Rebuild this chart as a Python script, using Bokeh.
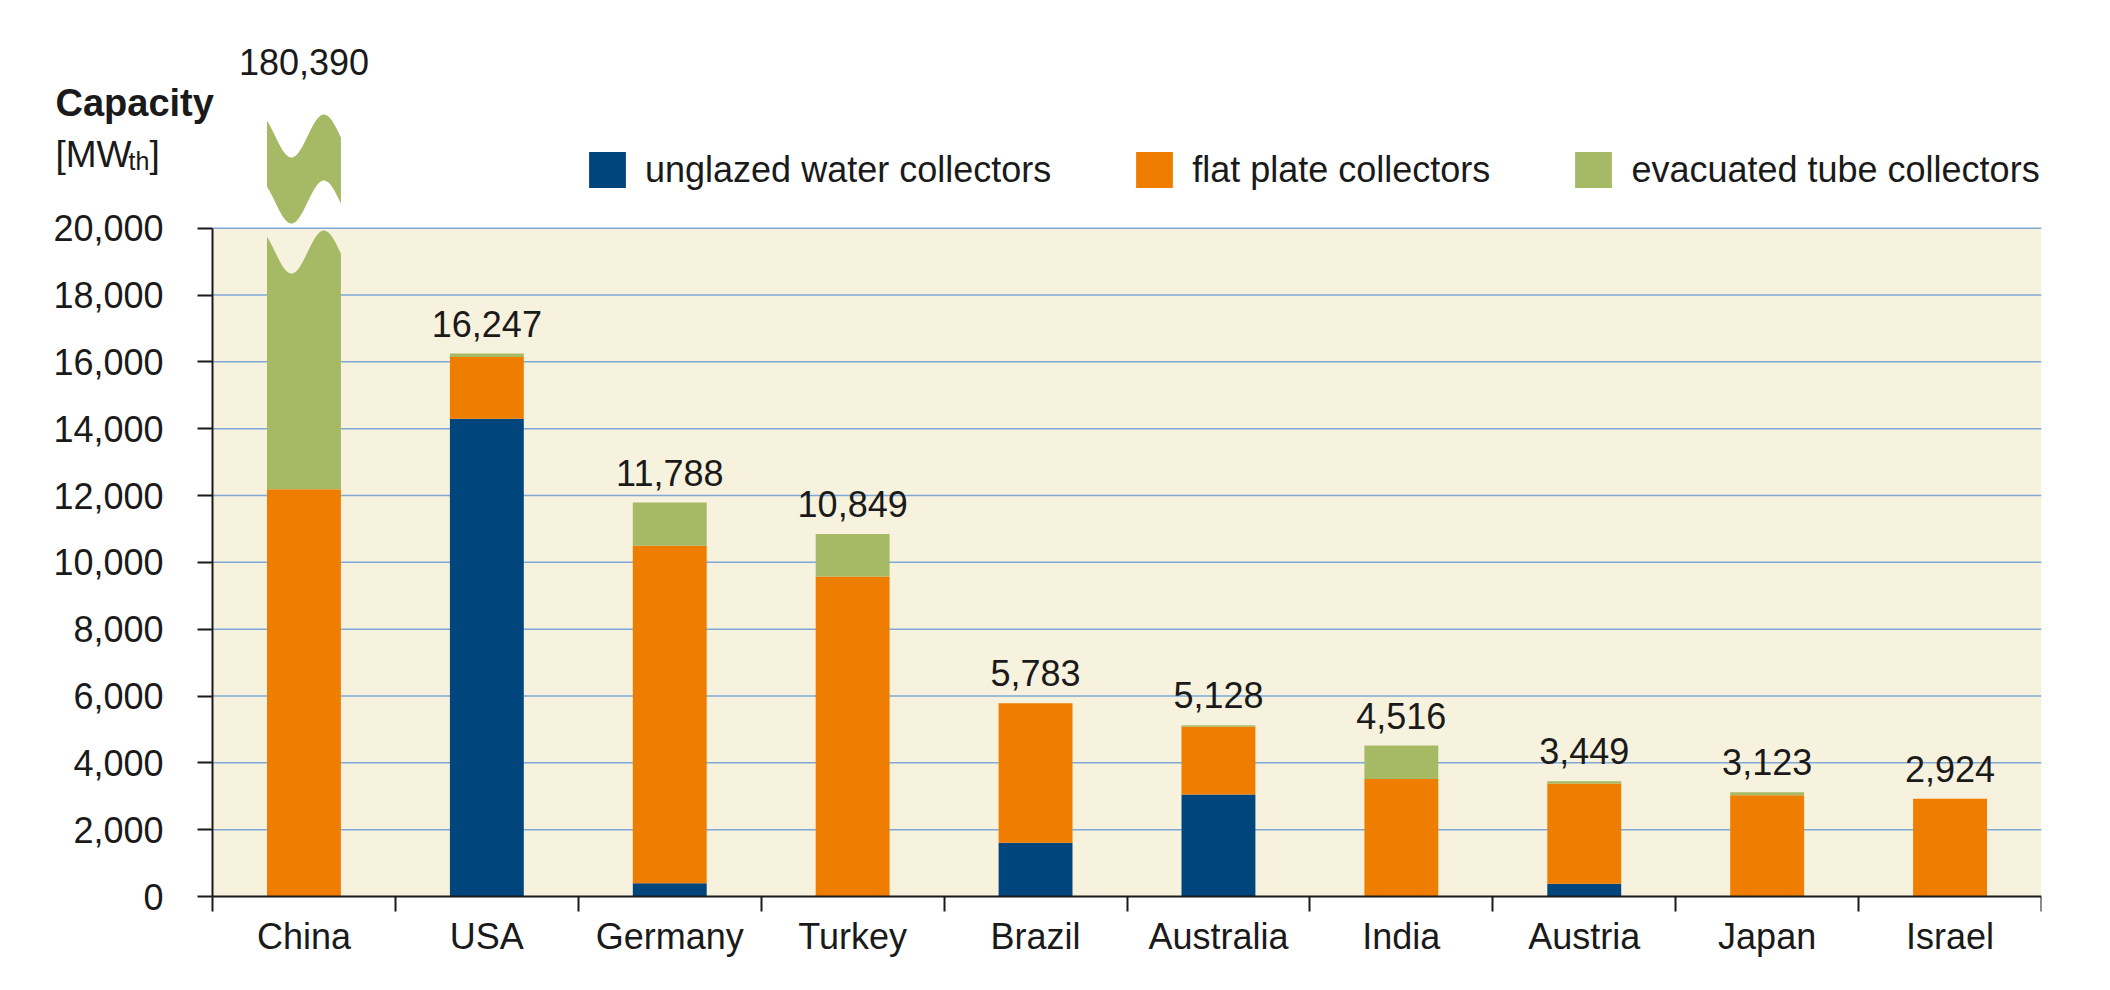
import numpy as np
from bokeh.plotting import figure
from bokeh.models import (ColumnDataSource, Range1d, FixedTicker, NumeralTickFormatter,
                          Legend, LegendItem, BoxAnnotation, Label)
from bokeh.core.properties import value
from bokeh.embed import file_html
from bokeh.resources import INLINE

# ---------------- data ----------------
countries = ["China", "USA", "Germany", "Turkey", "Brazil", "Australia", "India", "Austria", "Japan", "Israel"]
unglazed = [0, 14300, 400, 0, 1610, 3050, 0, 380, 0, 0]
flat_plate = [12190, 1843, 10100, 9575, 4173, 2030, 3520, 3000, 3030, 2924]
evacuated = [168200, 104, 1288, 1274, 0, 48, 996, 69, 93, 0]
totals = [180390, 16247, 11788, 10849, 5783, 5128, 4516, 3449, 3123, 2924]
y_ticks = list(range(0, 20001, 2000))
series_names = ["unglazed water collectors", "flat plate collectors", "evacuated tube collectors"]

AXIS_MAX = 20000
FONT = "Liberation Sans"
C_BLUE = "#00457C"
C_ORANGE = "#EF7D00"
C_GREEN = "#A6B964"
C_BG = "#F7F2DD"
C_GRID = "#7EA8D6"
C_TEXT = "#1A1A1A"

# geometry of the page
W, H = 2110, 990
LEFT, RIGHT, BOTTOM = 212, 69, 94
N = len(countries)
zero_py = H - BOTTOM
px_per_unit = 668.3 / AXIS_MAX
upp = 1 / px_per_unit  # data units per pixel (y)
Y_START = -BOTTOM * upp
Y_END = zero_py * upp
unit_px = (W - LEFT - RIGHT) / N  # pixels per category (x)
X_START = -LEFT / unit_px
BAR_W = 0.404
BASE_FIX = 14  # renderer puts alphabetic baselines this many px low

xs = [i + 0.5 for i in range(N)]
over = [t > AXIS_MAX for t in totals]
evac_disp = [0 if o else e for o, e in zip(over, evacuated)]

src = ColumnDataSource(dict(x=xs, unglazed=unglazed, flat_plate=flat_plate, evacuated=evac_disp))

p = figure(width=W, height=H, output_backend="svg", toolbar_location=None,
           x_range=Range1d(X_START, N), y_range=Range1d(Y_START, Y_END),
           min_border_left=0, min_border_right=RIGHT, min_border_top=0, min_border_bottom=0,
           background_fill_color="white", border_fill_color="white", outline_line_color=None)

p.add_layout(BoxAnnotation(bottom=0, top=AXIS_MAX, left=0, right=N,
                           fill_color=C_BG, fill_alpha=1, line_color=None, level="image"))

# horizontal grid lines limited to the plotting area
p.xgrid.visible = False
p.ygrid.visible = False
gl = [v for v in y_ticks if v > 0]
p.segment(x0=[0] * len(gl), x1=[N] * len(gl), y0=gl, y1=gl, line_color=C_GRID, line_width=1.5)

rs = p.vbar_stack(["unglazed", "flat_plate", "evacuated"], x="x", width=BAR_W, source=src,
                  color=[C_BLUE, C_ORANGE, C_GREEN], line_color=None)

# broken bar(s)
t = np.linspace(0, 1, 80)
for i, o in enumerate(over):
    if not o:
        continue
    xl, xr = xs[i] - BAR_W / 2, xs[i] + BAR_W / 2
    wave = (AXIS_MAX - 712) - 643 * np.cos(2 * np.pi * (t - 0.33) / 0.88)
    wx = xl + t * (xr - xl)
    base = unglazed[i] + flat_plate[i]
    p.patch(list(np.r_[xl, wx, xr]), list(np.r_[base, wave, base]), fill_color=C_GREEN, line_color=None)
    lo = wave + 50 * upp
    hi = wave + 116 * upp
    p.patch(list(np.r_[wx, wx[::-1]]), list(np.r_[lo, hi[::-1]]), fill_color=C_GREEN, line_color=None)

# value labels
lab_y, lab_off = [], []
for i, tot in enumerate(totals):
    if over[i]:
        lab_y.append(AXIS_MAX - 712 + 643 + 116 * upp)
        lab_off.append(-39 - BASE_FIX)
    else:
        lab_y.append(tot)
        lab_off.append(-16 - BASE_FIX)
lsrc = ColumnDataSource(dict(x=xs, y=lab_y, off=lab_off, text=[f"{v:,}" for v in totals]))
p.text(x="x", y="y", text="text", y_offset="off", source=lsrc, text_align="center",
       text_baseline="alphabetic", text_font=value(FONT), text_font_size="36px", text_color=C_TEXT)

# axes (placed inside the frame so that nothing is clipped)
ya = p.yaxis[0]
ya.fixed_location = 0
ya.ticker = FixedTicker(ticks=y_ticks, minor_ticks=[])
ya.formatter = NumeralTickFormatter(format="0,0")
ya.bounds = (0, AXIS_MAX)
ya.axis_line_width = 2
ya.axis_line_color = C_TEXT
ya.major_tick_line_width = 2
ya.major_tick_line_color = C_TEXT
ya.major_tick_out = 15
ya.major_tick_in = 0
ya.minor_tick_line_color = None
ya.major_label_standoff = 34
ya.major_label_text_font = FONT
ya.major_label_text_font_size = "36px"
ya.major_label_text_color = C_TEXT

xa = p.xaxis[0]
xa.fixed_location = 0
xa.bounds = (0, N)
xa.ticker = FixedTicker(ticks=xs, minor_ticks=list(range(N + 1)))
xa.major_label_overrides = {x: c for x, c in zip(xs, countries)}
xa.axis_line_width = 2
xa.axis_line_color = C_TEXT
xa.major_tick_line_color = None
xa.major_tick_out = 0
xa.major_tick_in = 0
xa.minor_tick_line_color = C_TEXT
xa.minor_tick_line_width = 2
xa.minor_tick_out = 15
xa.minor_tick_in = 0
xa.major_label_standoff = 4
xa.major_label_text_font = FONT
xa.major_label_text_font_size = "36px"
xa.major_label_text_color = C_TEXT

# legend
legend = Legend(items=[LegendItem(label=n, renderers=[r]) for n, r in zip(series_names, rs)],
                orientation="horizontal", location=(584, 704 + BOTTOM), glyph_width=46, glyph_height=45,
                label_standoff=15, spacing=80, padding=0, margin=0, border_line_color=None,
                background_fill_alpha=0, label_text_font=FONT, label_text_font_size="36px",
                label_text_color=C_TEXT, label_height=36)
p.add_layout(legend)

# y title
def px_to_x(px):
    return (px - LEFT) / unit_px

def py_to_y(py):
    return (zero_py - py + BASE_FIX) * upp

for txt, px, py, size, style in [("Capacity", 55, 116, "38px", "bold"),
                                 ("[MW", 55, 168, "37px", "normal"),
                                 ("th", 128, 174, "25px", "normal"),
                                 ("]", 149, 168, "37px", "normal")]:
    p.add_layout(Label(x=px_to_x(px), y=py_to_y(py), text=txt, text_font=FONT, text_font_size=size,
                       text_font_style=style, text_color=C_TEXT, text_baseline="alphabetic"))

open("out.html", "w").write(file_html(p, INLINE))
